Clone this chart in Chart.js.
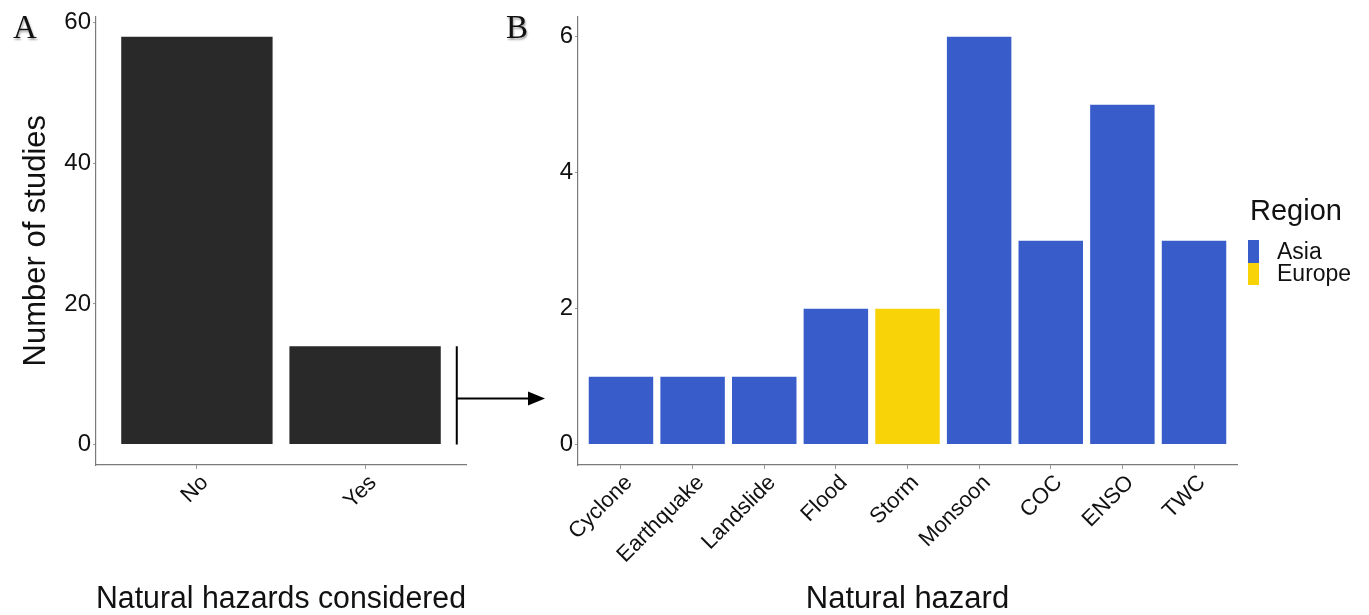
<!DOCTYPE html>
<html>
<head>
<meta charset="utf-8">
<script src="https://cdn.jsdelivr.net/npm/chart.js@4.4.0/dist/chart.umd.min.js"></script>
<style>
  body { margin: 0; background: #fff; width: 1369px; height: 615px; position: relative; overflow: hidden;
         font-family: "Liberation Sans", Arial, sans-serif; }
  canvas { position: absolute; top: 0; }
  #chartA { left: 0; }
  #chartB { left: 480px; }
  .tag { position: absolute; font-family: "Liberation Serif", serif; font-size: 33px; line-height: 1;
         color: #111; text-shadow: 1px 2px 2px rgba(0,0,0,0.35); }
  #legend { position: absolute; left: 1248px; top: 194px; color: #111; }
  #legend .title { font-size: 29px; margin-left: 2px; margin-bottom: 13px; }
  #legend .row { display: flex; align-items: center; height: 22.5px; }
  #legend .key { width: 11px; height: 22.5px; margin-right: 18px; }
  #legend .lab { font-size: 23px; }
</style>
</head>
<body>
<canvas id="chartA" width="560" height="615"></canvas>
<canvas id="chartB" width="889" height="615"></canvas>
<div class="tag" style="left:13px;top:11px;">A</div>
<div class="tag" style="left:506px;top:11px;">B</div>
<div id="legend"></div>

<script>
// Panel A: were natural hazards considered?
const consideredLabels = ['No', 'Yes'];
const consideredCounts = [58, 14];
const countTicks = [0, 20, 40, 60];

// Panel B: hazards by region
const hazardLabels = ['Cyclone', 'Earthquake', 'Landslide', 'Flood', 'Storm', 'Monsoon', 'COC', 'ENSO', 'TWC'];
const hazardCounts = [1, 1, 1, 2, 2, 6, 3, 5, 3];
const hazardRegion = ['Asia', 'Asia', 'Asia', 'Asia', 'Europe', 'Asia', 'Asia', 'Asia', 'Asia'];
const hazardTicks = [0, 2, 4, 6];

const regions = ['Asia', 'Europe'];
const regionColors = { Asia: '#385DCB', Europe: '#F7D308' };

const FONT = "'Liberation Sans', Arial, sans-serif";
Chart.defaults.font.family = FONT;
Chart.defaults.color = '#111';

// ggplot-like padding: 5% on values, 0.6 category on each side
function yRange(vals) {
  const hi = Math.max(...vals);
  return { min: -hi * 0.05, max: hi * 1.05 };
}

function makeScales(labels, values, ticks, yTitle, xTitle, yWidth) {
  const r = yRange(values);
  return {
    x: {
      type: 'linear',
      offset: false,
      min: -0.6,
      max: labels.length - 1 + 0.6,
      afterBuildTicks: s => { s.ticks = labels.map((_, i) => ({ value: i })); },
      afterFit: s => { s.height = 150; },
      grid: { offset: false, drawOnChartArea: false, drawTicks: true, tickLength: 4, color: '#999' },
      border: { display: true, color: '#7a7a7a', width: 1.2 },
      ticks: {
        autoSkip: false, minRotation: 45, maxRotation: 45, padding: 1, labelOffset: 8,
        color: '#111', font: { size: 22, family: FONT },
        callback: v => labels[v]
      },
      title: { display: true, text: xTitle, color: '#111', font: { size: 31, family: FONT, lineHeight: 1 }, padding: { top: 0, bottom: 0 } }
    },
    y: {
      min: r.min,
      max: r.max,
      afterBuildTicks: s => { s.ticks = ticks.map(v => ({ value: v })); },
      afterFit: s => { s.width = yWidth; },
      grid: { drawOnChartArea: false, drawTicks: true, tickLength: 3, color: '#999' },
      border: { display: true, color: '#7a7a7a', width: 1.2 },
      ticks: { padding: 2, color: '#111', font: { size: 24, family: FONT } },
      title: { display: !!yTitle, text: yTitle, color: '#111', font: { size: 31, family: FONT }, padding: { top: 18, bottom: 0 } }
    }
  };
}

// Bracket and arrow from the "Yes" bar over to panel B
const linkArrow = {
  id: 'linkArrow',
  afterDraw(chart) {
    const { ctx, scales: { y } } = chart;
    const bar = chart.getDatasetMeta(0).data[1];
    const lx = bar.x + bar.width / 2 + 16;
    const top = y.getPixelForValue(consideredCounts[1]);
    const bottom = y.getPixelForValue(0);
    const mid = (top + bottom) / 2 + 3;
    const tip = 545;
    ctx.save();
    ctx.strokeStyle = '#000';
    ctx.fillStyle = '#000';
    ctx.lineWidth = 2;
    ctx.beginPath();
    ctx.moveTo(lx, top);
    ctx.lineTo(lx, bottom);
    ctx.moveTo(lx, mid);
    ctx.lineTo(tip - 14, mid);
    ctx.stroke();
    ctx.beginPath();
    ctx.moveTo(tip - 17, mid - 7);
    ctx.lineTo(tip, mid);
    ctx.lineTo(tip - 17, mid + 7);
    ctx.closePath();
    ctx.fill();
    ctx.restore();
  }
};

new Chart(document.getElementById('chartA'), {
  type: 'bar',
  data: {
    datasets: [{
      data: consideredCounts.map((v, i) => ({ x: i, y: v })),
      backgroundColor: '#292929',
      barPercentage: 0.9,
      categoryPercentage: 1.0
    }]
  },
  options: {
    responsive: false,
    devicePixelRatio: 1,
    animation: false,
    layout: { padding: { top: 13, right: 94, left: 0, bottom: 0 } },
    plugins: { legend: { display: false }, tooltip: { enabled: false } },
    scales: makeScales(consideredLabels, consideredCounts, countTicks, 'Number of studies', 'Natural hazards considered', 96)
  },
  plugins: [linkArrow]
});

new Chart(document.getElementById('chartB'), {
  type: 'bar',
  data: {
    datasets: [{
      data: hazardCounts.map((v, i) => ({ x: i, y: v })),
      backgroundColor: hazardRegion.map(r => regionColors[r]),
      barPercentage: 0.9,
      categoryPercentage: 1.0
    }]
  },
  options: {
    responsive: false,
    devicePixelRatio: 1,
    animation: false,
    layout: { padding: { top: 13, right: 132, left: 0, bottom: 0 } },
    plugins: { legend: { display: false }, tooltip: { enabled: false } },
    scales: makeScales(hazardLabels, hazardCounts, hazardTicks, '', 'Natural hazard', 98)
  }
});

// Region legend
const legend = document.getElementById('legend');
legend.innerHTML = '<div class="title">Region</div>' + regions.map(r =>
  '<div class="row"><div class="key" style="background:' + regionColors[r] + '"></div><div class="lab">' + r + '</div></div>'
).join('');
</script>
</body>
</html>
